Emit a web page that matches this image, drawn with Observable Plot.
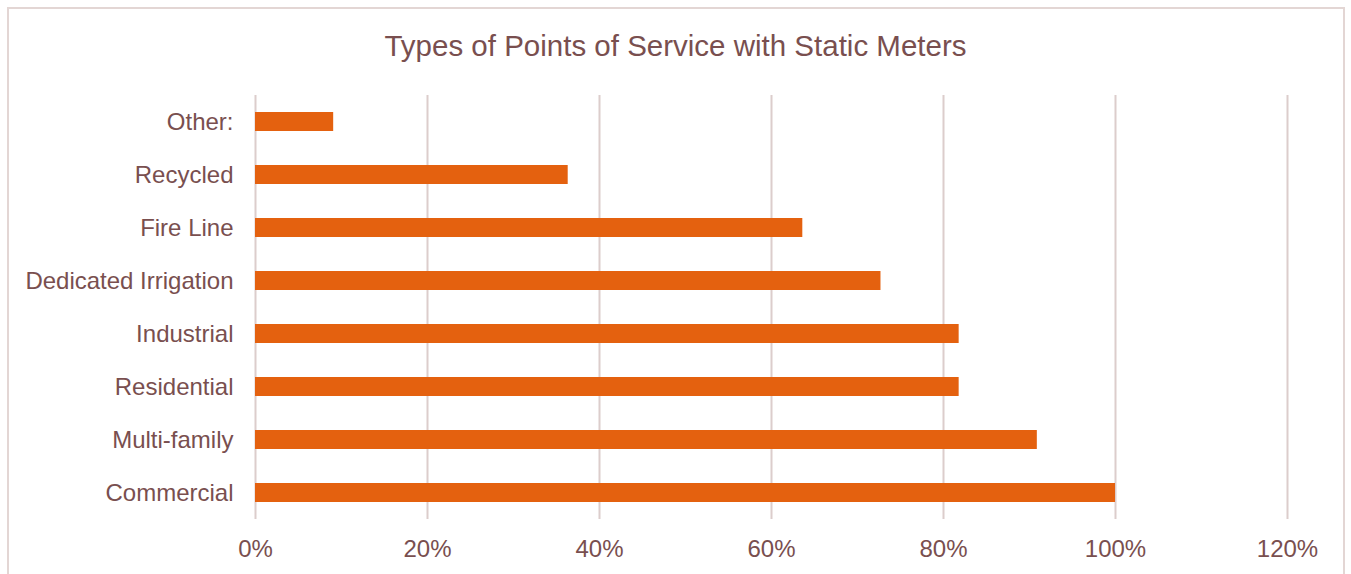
<!DOCTYPE html>
<html>
<head>
<meta charset="utf-8">
<script src="https://cdn.jsdelivr.net/npm/d3@7"></script>
<script src="https://cdn.jsdelivr.net/npm/@observablehq/plot@0.6"></script>
<style>
  html, body { margin: 0; padding: 0; background: #fff; }
  #wrap { position: relative; width: 1351px; height: 574px; overflow: hidden; font-family: "Liberation Sans", Arial, sans-serif; }
  #frame { position: absolute; left: 7px; top: 7px; width: 1338px; height: 600px; border: 2px solid #e3d6d4; box-sizing: border-box; }
  #title { position: absolute; left: 0; top: 0; width: 1351px; height: 85px; text-align: center; line-height: 92px; font-size: 29.5px; color: #794f4f; }
  #chart { position: absolute; left: 0; top: 85px; }
</style>
</head>
<body>
<div id="wrap">
  <div id="frame"></div>
  <div id="title">Types of Points of Service with Static Meters</div>
  <div id="chart"></div>
</div>
<script>
const categories = ["Other:", "Recycled", "Fire Line", "Dedicated Irrigation", "Industrial", "Residential", "Multi-family", "Commercial"];
const values = [0.0909, 0.3636, 0.6364, 0.7273, 0.8182, 0.8182, 0.9091, 1.0];
const xTicks = [0, 0.2, 0.4, 0.6, 0.8, 1.0, 1.2];

const data = categories.map((c, i) => ({category: c, value: values[i]}));

const plot = Plot.plot({
  width: 1351,
  height: 489,
  marginLeft: 255,
  marginRight: 64,
  marginTop: 10,
  marginBottom: 55,
  style: {fontFamily: "'Liberation Sans', Arial, sans-serif", fontSize: "24px", color: "#794f4f", background: "transparent"},
  x: {domain: [0, 1.2], ticks: xTicks, tickFormat: d => Math.round(d * 100) + "%", label: null},
  y: {domain: categories, paddingInner: 0.64, paddingOuter: 0.32, label: null},
  marks: [
    Plot.gridX(xTicks, {stroke: "#dccdcc", strokeOpacity: 1, strokeWidth: 2}),
    Plot.barX(data, {x: "value", y: "category", fill: "#e4610f"}),
    Plot.axisX({ticks: xTicks, tickFormat: d => Math.round(d * 100) + "%", tickSize: 0, tickPadding: 20, fontSize: 24, fill: "#794f4f", label: null}),
    Plot.axisY({tickSize: 0, tickPadding: 22, fontSize: 24, fill: "#794f4f", label: null})
  ]
});
document.getElementById("chart").appendChild(plot);
</script>
</body>
</html>
